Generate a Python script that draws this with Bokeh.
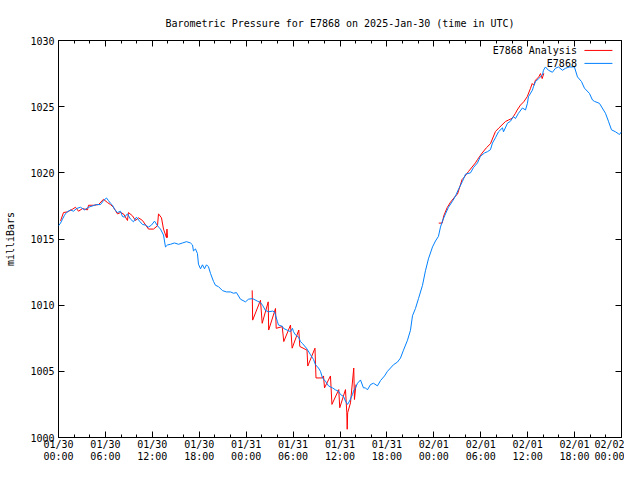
import math
from bokeh.plotting import figure
from bokeh.models import FixedTicker, LinearAxis, Label, Arrow, Range1d
from bokeh.embed import file_html
from bokeh.resources import INLINE

NAN = float("nan")

# ---- data (x = hours since 2025-01-30 00:00 UTC) ----
obs_hours = [
    0.0, 0.26, 0.51, 0.77, 1.02, 1.53, 1.92, 2.30, 2.81, 3.32,
    3.84, 4.35, 4.86, 5.37, 5.75, 6.14, 6.39, 6.65, 6.91, 7.16,
    7.54, 7.93, 8.18, 8.44, 8.82, 9.21, 9.59, 9.97, 10.36, 10.74,
    11.13, 11.51, 11.89, 12.28, 12.66, 13.04, 13.43, 13.68, 13.94, 14.32,
    14.83, 15.35, 15.86, 16.37, 16.88, 17.14, 17.26, 17.52, 17.77, 17.90,
    18.16, 18.41, 18.67, 18.93, 19.18, 19.44, 19.82, 20.08, 20.46, 20.97,
    21.48, 22.0, 22.38, 22.76, 23.27, 23.91, 24.3, 24.81, 25.45, 25.83,
    26.09, 26.47, 26.85, 27.37, 27.62, 27.75, 28.0, 28.13, 28.64, 28.77,
    29.28, 29.67, 29.92, 30.05, 30.31, 30.69, 30.95, 31.2, 31.71, 32.23,
    32.61, 32.86, 33.25, 33.5, 33.76, 34.14, 34.53, 35.04, 35.42, 35.81,
    36.06, 36.45, 36.7, 36.96, 37.08, 37.34, 37.6, 37.72, 37.98, 38.24,
    38.62, 39.0, 39.26, 39.51, 39.9, 40.28, 40.79, 41.18, 41.69, 42.07,
    42.46, 42.84, 43.35, 43.73, 44.12, 44.63, 45.01, 45.27, 45.65, 46.04,
    46.55, 46.93, 47.31, 47.83, 48.21, 48.59, 48.85, 49.1, 49.49, 49.87,
    50.38, 50.77, 51.15, 51.66, 52.05, 52.69, 53.07, 53.58, 53.96, 54.48,
    54.86, 55.24, 55.5, 55.88, 56.27, 56.78, 56.91, 57.42, 57.8, 58.18,
    58.44, 58.82, 59.33, 59.72, 59.97, 60.1, 60.61, 60.74, 61.0, 61.38,
    61.89, 62.02, 62.28, 62.66, 63.17, 63.55, 63.94, 64.45, 64.83, 65.35,
    65.98, 66.37, 66.88, 67.26, 67.9, 68.29, 68.54, 69.18, 69.95, 70.33,
    70.72, 71.23, 71.61, 71.74, 72.0,
]
obs_mbar = [
    1016.0, 1016.2, 1016.5, 1016.8, 1017.0, 1017.2, 1017.1, 1017.3, 1017.4, 1017.2,
    1017.4, 1017.5, 1017.6, 1017.6, 1017.9, 1018.1, 1017.9, 1017.7, 1017.55, 1017.25,
    1017.0, 1017.1, 1016.7, 1016.65, 1016.9, 1016.5, 1016.3, 1016.65, 1016.35, 1016.1,
    1016.05, 1015.9, 1016.05, 1016.35, 1016.0, 1015.75, 1015.3, 1014.4, 1014.55, 1014.6,
    1014.7, 1014.6, 1014.7, 1014.8, 1014.7, 1014.55, 1014.1, 1014.25, 1013.9, 1013.1,
    1012.75, 1013.05, 1012.75, 1013.05, 1012.9, 1012.4, 1011.8, 1011.5, 1011.4, 1011.1,
    1011.0, 1011.0, 1010.9, 1010.95, 1010.45, 1010.25, 1010.45, 1010.5, 1010.3, 1010.2,
    1010.0, 1009.6, 1009.5, 1009.55, 1009.5, 1009.25, 1008.75, 1008.5, 1008.4, 1008.25,
    1008.1, 1008.0, 1008.25, 1008.0, 1007.75, 1007.6, 1007.25, 1007.1, 1006.75, 1006.25,
    1005.9, 1005.5, 1005.25, 1005.0, 1004.5, 1004.25, 1003.9, 1003.75, 1003.6, 1003.5,
    1003.25, 1003.1, 1002.75, 1002.5, 1002.6, 1002.9, 1003.25, 1003.5, 1003.75, 1004.1,
    1004.35, 1003.75, 1003.75, 1003.6, 1004.0, 1004.1, 1003.9, 1004.3, 1004.65, 1005.0,
    1005.25, 1005.5, 1005.7, 1006.0, 1006.6, 1007.35, 1008.1, 1009.2, 1009.75, 1010.5,
    1011.5, 1012.6, 1013.5, 1014.4, 1014.85, 1015.2, 1015.9, 1016.35, 1016.9, 1017.4,
    1017.85, 1018.25, 1018.75, 1019.35, 1019.9, 1020.0, 1020.4, 1020.75, 1021.25, 1021.5,
    1021.6, 1021.75, 1022.25, 1022.65, 1023.1, 1023.4, 1023.1, 1023.75, 1023.9, 1024.25,
    1024.1, 1024.5, 1024.9, 1024.75, 1025.25, 1025.75, 1026.25, 1026.5, 1026.9, 1027.1,
    1027.4, 1027.75, 1028.0, 1027.75, 1027.6, 1027.9, 1028.0, 1027.75, 1027.9, 1028.0,
    1028.0, 1027.25, 1026.9, 1026.4, 1026.0, 1025.5, 1025.4, 1025.25, 1024.5, 1023.9,
    1023.25, 1023.1, 1022.95, 1022.9, 1023.1,
]

ana_hours = [
    0.26, 0.64, 1.15, 1.79, 2.17, 2.56, 3.07, 3.71, 3.84, 4.48,
    5.12, 5.75, 6.27, 6.65, 7.03, 7.54, 7.93, 8.31, 8.82, 8.95,
    9.46, 9.85, 10.23, 10.74, 11.51, 12.15, 12.66, 12.79, 13.17, 13.43,
    13.81, 13.87, 13.94, NAN,
    24.77, 24.83, 25.83, 26.05, 26.82, 26.88, 27.75, 27.84, 28.61, 28.81,
    29.67, 29.88, 30.73, 30.86, 31.78, 31.88, 32.8, 32.93, 33.72, 33.89,
    34.02, 34.78, 34.97, 35.84, 35.97, 36.7, 36.87, 36.92, 36.98, 37.34,
    37.76, 37.85, 38.04, NAN,
    48.63, 49.07, 49.27, 49.71, 50.13, 50.77, 51.02, 51.62, 51.83, 52.43,
    53.32, 53.58, 54.18, 54.73, 55.24, 55.88, 56.3, 57.16, 57.58, 58.02,
    58.44, 58.66, 59.08, 59.5, 59.94, 60.36, 60.58, 60.78, 61.0, 61.42,
    61.64, 61.86, 62.06,
]
ana_mbar = [
    1016.37, 1017.0, 1017.05, 1017.25, 1017.4, 1017.1, 1017.3, 1017.2, 1017.55, 1017.55,
    1017.6, 1018.0, 1017.75, 1017.6, 1017.4, 1016.9, 1017.0, 1016.9, 1016.4, 1017.0,
    1016.75, 1016.4, 1016.6, 1016.4, 1015.75, 1015.75, 1016.0, 1016.9, 1016.6, 1015.75,
    1015.1, 1015.75, 1015.1, NAN,
    1011.12, 1008.87, 1010.37, 1008.63, 1010.25, 1008.12, 1009.75, 1008.25, 1008.38, 1007.25,
    1008.5, 1006.75, 1008.12, 1006.88, 1006.6, 1005.4, 1006.75, 1004.5, 1004.5, 1004.65,
    1003.75, 1004.65, 1002.5, 1003.62, 1002.25, 1003.62, 1001.87, 1000.62, 1001.87, 1002.62,
    1005.25, 1002.87, 1004.0, NAN,
    1016.2, 1016.2, 1016.75, 1017.38, 1017.78, 1018.25, 1018.38, 1019.5, 1019.63, 1020.1,
    1020.75, 1021.0, 1021.5, 1021.9, 1022.2, 1023.12, 1023.38, 1023.88, 1024.0, 1024.12,
    1024.5, 1024.75, 1025.12, 1025.37, 1025.75, 1026.38, 1026.75, 1026.62, 1027.0, 1027.25,
    1027.5, 1027.12, 1027.52,
]

tick_hours = [0, 6, 12, 18, 24, 30, 36, 42, 48, 54, 60, 66, 72]
tick_dates = ["01/30", "01/30", "01/30", "01/30", "01/31", "01/31", "01/31",
              "01/31", "02/01", "02/01", "02/01", "02/01", "02/02"]
tick_times = ["00:00", "06:00", "12:00", "18:00", "00:00", "06:00", "12:00",
              "18:00", "00:00", "06:00", "12:00", "18:00", "00:00"]
minor_hours = list(range(0, 73, 2))
y_ticks = [1000, 1005, 1010, 1015, 1020, 1025, 1030]

series_names = ["E7868 Analysis", "E7868"]
series_colors = ["#ff0000", "#0080ff"]

FONT = "DejaVu Sans Mono"
FS = "10px"

p = figure(width=624, height=464, output_backend="svg", toolbar_location=None,
           x_range=Range1d(0, 72), y_range=Range1d(1000, 1030),
           x_axis_type=None, y_axis_type=None,
           min_border_left=58, min_border_right=3,
           min_border_top=40, min_border_bottom=24,
           background_fill_color="white", border_fill_color="white")
p.outline_line_color = "black"
p.outline_line_width = 1

p.title.text = "Barometric Pressure for E7868 on 2025-Jan-30 (time in UTC)"
p.title.align = "center"
p.title.text_font = FONT
p.title.text_font_size = FS
p.title.text_font_style = "normal"
p.title.text_color = "black"
p.title.standoff = 24

xt = FixedTicker(ticks=tick_hours, minor_ticks=minor_hours)
yt = FixedTicker(ticks=y_ticks, minor_ticks=[])


def style(ax):
    ax.axis_line_color = None
    ax.major_tick_in = 6
    ax.major_tick_out = 0
    ax.minor_tick_in = 3
    ax.minor_tick_out = 0
    ax.major_tick_line_color = "black"
    ax.minor_tick_line_color = "black"
    ax.major_label_text_font = FONT
    ax.major_label_text_font_size = FS
    ax.major_label_text_color = "black"


def hide_labels(ax, ticks):
    ax.major_label_overrides = {t: "" for t in ticks}
    ax.major_label_text_color = None
    ax.major_label_standoff = 0


# bottom axis: ticks + date line
xb = LinearAxis(ticker=xt, major_label_overrides={h: d for h, d in zip(tick_hours, tick_dates)})
style(xb)
xb.major_label_standoff = 1
p.add_layout(xb, "below")

# second line of tick labels (times), no ticks of its own
xb2 = LinearAxis(ticker=xt, major_label_overrides={h: t for h, t in zip(tick_hours, tick_times)})
style(xb2)
xb2.major_tick_line_color = None
xb2.minor_tick_line_color = None
xb2.major_tick_in = 0
xb2.minor_tick_in = 0
xb2.major_label_standoff = -2
p.add_layout(xb2, "below")

yl = LinearAxis(ticker=yt, axis_label="milliBars")
style(yl)
yl.major_label_standoff = 4
yl.axis_label_text_font = FONT
yl.axis_label_text_font_size = FS
yl.axis_label_text_font_style = "normal"
yl.axis_label_text_color = "black"
yl.axis_label_standoff = 11
p.add_layout(yl, "left")

# mirrored ticks on top and right
xa = LinearAxis(ticker=xt)
style(xa)
hide_labels(xa, tick_hours)
p.add_layout(xa, "above")
yr = LinearAxis(ticker=yt)
style(yr)
hide_labels(yr, y_ticks)
p.add_layout(yr, "right")

p.line(ana_hours, ana_mbar, line_color=series_colors[0], line_width=1)
p.line(obs_hours, obs_mbar, line_color=series_colors[1], line_width=1)

# legend (top-right, text right-aligned, sample line to the right)
leg_text_x = 66.3
leg_line_x = (67.26, 70.84)
leg_y = [1029.25, 1028.27]
for name, color, yy in zip(series_names, series_colors, leg_y):
    p.add_layout(Label(x=leg_text_x, y=yy, text=name, text_align="right",
                       text_baseline="middle", text_font=FONT, text_font_size=FS,
                       text_color="black"))
    p.add_layout(Arrow(end=None, x_start=leg_line_x[0], x_end=leg_line_x[1],
                       y_start=yy, y_end=yy, line_color=color, line_width=1))

open("out.html", "w").write(file_html(p, INLINE))
